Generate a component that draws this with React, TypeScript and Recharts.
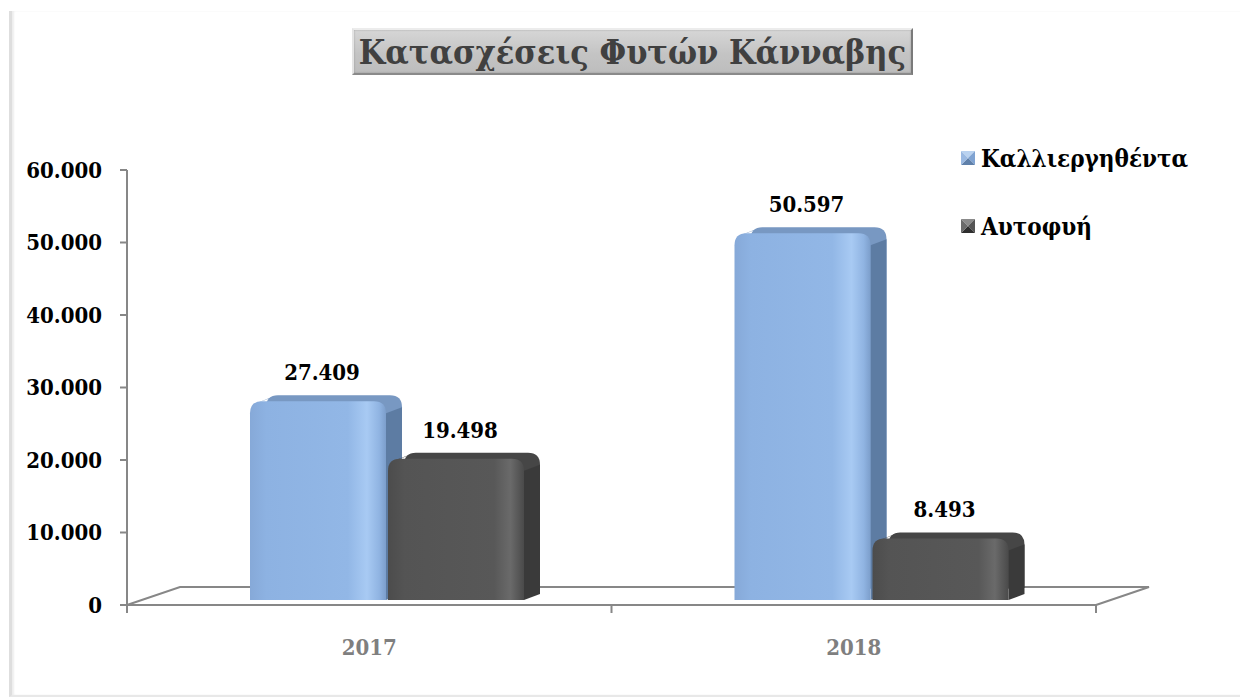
import React from 'react';
import { BarChart, Bar, XAxis, YAxis, LabelList } from 'recharts';

const categories = ['2017', '2018'];
const cultivated = [27409, 50597];
const wild = [19498, 8493];
const seriesNames = ['Καλλιεργηθέντα', 'Αυτοφυή'];
const yTicks = [0, 10000, 20000, 30000, 40000, 50000, 60000];
const chartTitle = 'Κατασχέσεις Φυτών Κάνναβης';

const data = categories.map((c, i) => ({ year: c, cult: cultivated[i], wild: wild[i] }));

const W = 1240;
const H = 699;
const PLOT_LEFT = 127;
const PLOT_RIGHT = 1096;
const PLOT_TOP = 170;
const PLOT_BOTTOM = 605;
const DEPTH_X = 53;
const DEPTH_Y = 18;
const BAR_SHIFT_X = 18;
const BAR_SHIFT_Y = -5;
const FONT = '"DejaVu Serif", "Liberation Serif", serif';
const STRETCH = 'condensed';
const AXIS_COLOR = '#878787';

const fmt = (v: number) => String(v).replace(/\B(?=(\d{3})+(?!\d))/g, '.');

const palettes: Record<string, any> = {
  blue: {
    stops: [
      [0, '#86a9d8'],
      [0.12, '#8db2e2'],
      [0.72, '#92b7e6'],
      [0.86, '#a8caf3'],
      [0.95, '#90b4e2'],
      [1, '#7c9ecb'],
    ],
    side: '#5d7ca3',
    top: '#7898c2',
  },
  dark: {
    stops: [
      [0, '#4c4c4c'],
      [0.12, '#545454'],
      [0.78, '#585858'],
      [0.9, '#6a6a6a'],
      [1, '#4a4a4a'],
    ],
    side: '#3a3a3a',
    top: '#464646',
  },
};

function Bar3D(props: any) {
  const { x, y, width, height, kind, index } = props;
  if (width == null || height == null || height <= 0) return null;
  const p = palettes[kind];
  const X = x + BAR_SHIFT_X;
  const Y = y + BAR_SHIFT_Y;
  const w = width;
  const h = height;
  const r = 12;
  const dx = 16;
  const dy = 6;
  const gid = `grad-${kind}-${index}`;
  const front = `M${X},${Y + h} L${X},${Y + r} Q${X},${Y} ${X + r},${Y} L${X + w - r},${Y} Q${X + w},${Y} ${X + w},${Y + r} L${X + w},${Y + h} Z`;
  const BX = X + dx;
  const BY = Y - dy;
  const back = `M${BX},${BY + h} L${BX},${BY + r} Q${BX},${BY} ${BX + r},${BY} L${BX + w - r},${BY} Q${BX + w},${BY} ${BX + w},${BY + r} L${BX + w},${BY + h - dy} Z`;
  const bevel = `M${X + 3},${Y + 3} L${X + dx + 3},${Y - dy + 3} L${X + dx + r},${Y - dy} L${X + r},${Y} Z`;
  const side = `M${X + w},${Y + r} L${X + w + dx},${Y - dy + r} L${X + w + dx},${Y + h - dy} L${X + w},${Y + h} Z`;
  return (
    <g>
      <defs>
        <linearGradient id={gid} x1="0" y1="0" x2="1" y2="0">
          {p.stops.map((s: any, i: number) => (
            <stop key={i} offset={s[0]} stopColor={s[1]} />
          ))}
        </linearGradient>
      </defs>
      <path d={back} fill={p.top} />
      <path d={bevel} fill={p.top} />
      <path d={side} fill={p.side} />
      <path d={front} fill={`url(#${gid})`} />
    </g>
  );
}

function renderLabel(props: any) {
  const { x, y, width, value } = props;
  return (
    <text
      x={x + BAR_SHIFT_X + width / 2 + 4}
      y={y + BAR_SHIFT_Y - 21}
      textAnchor="middle"
      fontFamily={FONT}
      fontWeight="bold"
      fontSize={22}
      style={{ fontStretch: STRETCH }}
      fill="#000"
    >
      {fmt(value)}
    </text>
  );
}

function LegendMarker({ kind }: { kind: string }) {
  const c = kind === 'blue'
    ? ['#b9d2f0', '#7fa3d2', '#5f80aa', '#9ab9e2']
    : ['#8a8a8a', '#555555', '#2e2e2e', '#6a6a6a'];
  return (
    <svg width={14} height={14} style={{ display: 'block' }}>
      <polygon points="0,0 14,0 7,7" fill={c[0]} />
      <polygon points="14,0 14,14 7,7" fill={c[1]} />
      <polygon points="0,14 14,14 7,7" fill={c[2]} />
      <polygon points="0,0 0,14 7,7" fill={c[3]} />
    </svg>
  );
}

function LegendBox() {
  const kinds = ['blue', 'dark'];
  return (
    <div style={{ position: 'absolute', left: 961, top: 144, fontFamily: FONT, fontStretch: STRETCH }}>
      {seriesNames.map((name, i) => (
        <div
          key={i}
          style={{ display: 'flex', alignItems: 'center', height: 28, marginBottom: i === 0 ? 40 : 0 }}
        >
          <LegendMarker kind={kinds[i]} />
          <span style={{ marginLeft: 6, fontWeight: 'bold', fontSize: 24, color: '#000' }}>{name}</span>
        </div>
      ))}
    </div>
  );
}

function Floor() {
  const mid = (PLOT_LEFT + PLOT_RIGHT) / 2;
  const stroke = AXIS_COLOR;
  return (
    <svg width={W} height={H} style={{ position: 'absolute', left: 0, top: 0 }}>
      <polyline
        points={`${PLOT_LEFT},${PLOT_BOTTOM} ${PLOT_LEFT + DEPTH_X},${PLOT_BOTTOM - DEPTH_Y} ${PLOT_RIGHT + DEPTH_X},${PLOT_BOTTOM - DEPTH_Y} ${PLOT_RIGHT},${PLOT_BOTTOM}`}
        fill="none"
        stroke={stroke}
        strokeWidth={2}
      />
      {[PLOT_LEFT, mid, PLOT_RIGHT].map((tx, i) => (
        <line key={i} x1={tx} y1={PLOT_BOTTOM} x2={tx} y2={PLOT_BOTTOM + 8} stroke={stroke} strokeWidth={2} />
      ))}
    </svg>
  );
}

export default function App() {
  return (
    <div style={{ position: 'absolute', left: 0, top: 0, width: W, height: H, background: '#fff', overflow: 'hidden' }}>
      <div
        style={{
          position: 'absolute',
          left: 9,
          top: 11,
          width: W,
          height: 684,
          borderLeft: '3px solid #dedede',
          borderBottom: '2px solid #e8e8e8',
          boxShadow: 'inset 2px 0 2px #eeeeee',
        }}
      />
      <Floor />
      <div style={{ position: 'absolute', left: 0, top: 0 }}>
        <BarChart
          width={W}
          height={H}
          data={data}
          margin={{ top: PLOT_TOP, right: W - PLOT_RIGHT, bottom: H - PLOT_BOTTOM - 40, left: 0 }}
          barSize={136}
          barGap={2}
        >
          <XAxis
            dataKey="year"
            height={40}
            axisLine={{ stroke: AXIS_COLOR, strokeWidth: 2 }}
            tickLine={false}
            tickMargin={28}
            tick={{ fontFamily: FONT, fontWeight: 'bold', fontSize: 22, fill: '#7f7f7f', style: { fontStretch: STRETCH } }}
          />
          <YAxis
            width={PLOT_LEFT}
            domain={[0, 60000]}
            ticks={yTicks}
            interval={0}
            tickFormatter={fmt}
            axisLine={{ stroke: AXIS_COLOR, strokeWidth: 2 }}
            tickLine={{ stroke: AXIS_COLOR, strokeWidth: 2 }}
            tickSize={7}
            tickMargin={18}
            tick={{ fontFamily: FONT, fontWeight: 'bold', fontSize: 22, fill: '#000', style: { fontStretch: STRETCH } }}
          />
          <Bar
            dataKey="cult"
            name={seriesNames[0]}
            fill="#8db3e2"
            isAnimationActive={false}
            shape={(p: any) => <Bar3D {...p} kind="blue" />}
          >
            <LabelList dataKey="cult" content={renderLabel} />
          </Bar>
          <Bar
            dataKey="wild"
            name={seriesNames[1]}
            fill="#555555"
            isAnimationActive={false}
            shape={(p: any) => <Bar3D {...p} kind="dark" />}
          >
            <LabelList dataKey="wild" content={renderLabel} />
          </Bar>
        </BarChart>
      </div>
      <LegendBox />
      <div
        style={{
          position: 'absolute',
          left: 352,
          top: 28,
          width: 561,
          height: 47,
          boxSizing: 'border-box',
          background: 'linear-gradient(#d6d6d6, #c4c4c4 55%, #bdbdbd)',
          borderTop: '2px solid #ececec',
          borderLeft: '2px solid #e4e4e4',
          borderRight: '2px solid #7a7a7a',
          borderBottom: '2px solid #8a8a8a',
          boxShadow: 'inset 0 0 2px rgba(0,0,0,0.25)',
          display: 'flex',
          alignItems: 'center',
          justifyContent: 'center',
          fontFamily: FONT,
          fontStretch: STRETCH,
          fontWeight: 'bold',
          fontSize: 34,
          color: '#404040',
          whiteSpace: 'nowrap',
        }}
      >
        {chartTitle}
      </div>
    </div>
  );
}
